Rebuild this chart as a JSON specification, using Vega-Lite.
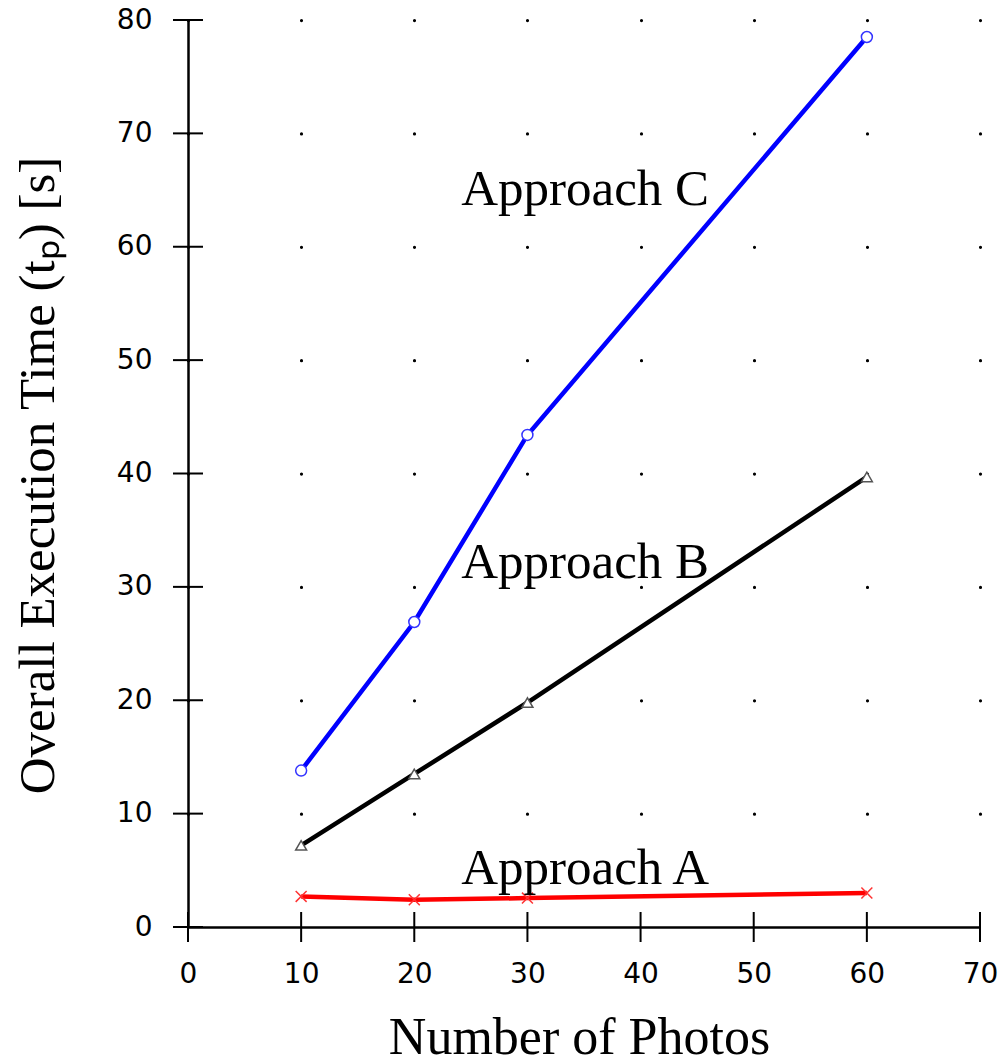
{
  "$schema": "https://vega.github.io/schema/vega-lite/v6.json",
  "autosize": {"type": "none"},
  "width": 792,
  "height": 907,
  "padding": {"left": 188, "top": 20, "right": 22, "bottom": 136},
  "background": "white",
  "config": {"view": {"stroke": null}},
  "layer": [
    {
      "data": {"values": [
        {"photos": 10, "time": 2.7, "series": "Approach A"},
        {"photos": 20, "time": 2.4, "series": "Approach A"},
        {"photos": 30, "time": 2.55, "series": "Approach A"},
        {"photos": 60, "time": 3.0, "series": "Approach A"},
        {"photos": 10, "time": 7.2, "series": "Approach B"},
        {"photos": 20, "time": 13.5, "series": "Approach B"},
        {"photos": 30, "time": 19.8, "series": "Approach B"},
        {"photos": 60, "time": 39.7, "series": "Approach B"},
        {"photos": 10, "time": 13.8, "series": "Approach C"},
        {"photos": 20, "time": 26.9, "series": "Approach C"},
        {"photos": 30, "time": 43.4, "series": "Approach C"},
        {"photos": 60, "time": 78.5, "series": "Approach C"}
      ]},
      "layer": [
        {
          "mark": {"type": "line", "strokeWidth": 4.5},
          "encoding": {
            "x": {
              "field": "photos", "type": "quantitative",
              "scale": {"domain": [0, 70], "nice": false},
              "axis": {
                "values": [0, 10, 20, 30, 40, 50, 60, 70],
                "ticks": false, "tickSize": 0,
                "domainColor": "black", "domainWidth": 2.5,
                "labelFont": "DejaVu Sans", "labelFontSize": 28, "labelColor": "black",
                "labelPadding": 33, "labelFlush": false,
                "grid": true, "gridColor": "black", "gridWidth": 3.2, "gridCap": "round",
                "gridDash": [0.1, 113.275], "gridOpacity": 1,
                "title": "Number of Photos",
                "titleFont": "Liberation Serif", "titleFontSize": 52, "titleFontWeight": "normal", "titleColor": "black",
                "titleX": 391, "titleY": 126, "titleBaseline": "alphabetic", "titleAlign": "center"
              }
            },
            "y": {
              "field": "time", "type": "quantitative",
              "scale": {"domain": [0, 80], "nice": false},
              "axis": {
                "values": [0, 10, 20, 30, 40, 50, 60, 70, 80],
                "ticks": false, "tickSize": 0,
                "domainColor": "black", "domainWidth": 2.5,
                "labelFont": "DejaVu Sans", "labelFontSize": 28, "labelColor": "black",
                "labelPadding": 36, "labelFlush": false,
                "grid": false,
                "title": "Overall Execution Time (tₚ) [s]",
                "titleFont": "Liberation Serif", "titleFontSize": 51, "titleFontWeight": "normal", "titleColor": "black",
                "titleX": -135, "titleY": 455, "titleBaseline": "alphabetic", "titleAlign": "center", "titleAngle": -90
              }
            },
            "color": {
              "field": "series", "type": "nominal",
              "scale": {"domain": ["Approach A", "Approach B", "Approach C"], "range": ["#ff0000", "#000000", "#0000ff"]},
              "legend": null
            }
          }
        },
        {
          "mark": {"type": "point", "filled": false, "fill": "white", "fillOpacity": 1, "strokeWidth": 1.5, "size": 120, "opacity": 1},
          "encoding": {
            "x": {"field": "photos", "type": "quantitative"},
            "y": {"field": "time", "type": "quantitative"},
            "stroke": {
              "field": "series", "type": "nominal",
              "scale": {"domain": ["Approach A", "Approach B", "Approach C"], "range": ["#ff3333", "#555555", "#3333ff"]},
              "legend": null
            },
            "shape": {
              "field": "series", "type": "nominal",
              "scale": {"domain": ["Approach A", "Approach B", "Approach C"], "range": ["M-1,-1L1,1M-1,1L1,-1", "triangle-up", "circle"]},
              "legend": null
            }
          }
        }
      ]
    },
    {
      "data": {"values": [
        {"v": 0}, {"v": 10}, {"v": 20}, {"v": 30}, {"v": 40}, {"v": 50}, {"v": 60}, {"v": 70}
      ]},
      "mark": {"type": "tick", "orient": "vertical", "size": 30, "thickness": 2, "color": "black", "opacity": 1},
      "encoding": {
        "x": {"field": "v", "type": "quantitative"},
        "y": {"datum": 0, "type": "quantitative"}
      }
    },
    {
      "data": {"values": [
        {"v": 0}, {"v": 10}, {"v": 20}, {"v": 30}, {"v": 40}, {"v": 50}, {"v": 60}, {"v": 70}, {"v": 80}
      ]},
      "mark": {"type": "tick", "orient": "horizontal", "size": 30, "thickness": 2, "color": "black", "opacity": 1},
      "encoding": {
        "x": {"datum": 0, "type": "quantitative"},
        "y": {"field": "v", "type": "quantitative"}
      }
    },
    {
      "data": {"values": [
        {"x": 35.1, "y": 63.7, "label": "Approach C"},
        {"x": 35.1, "y": 30.8, "label": "Approach B"},
        {"x": 35.1, "y": 3.8, "label": "Approach A"}
      ]},
      "mark": {"type": "text", "font": "Liberation Serif", "fontSize": 51, "color": "black", "align": "center", "baseline": "alphabetic"},
      "encoding": {
        "x": {"field": "x", "type": "quantitative"},
        "y": {"field": "y", "type": "quantitative"},
        "text": {"field": "label", "type": "nominal"}
      }
    }
  ]
}
